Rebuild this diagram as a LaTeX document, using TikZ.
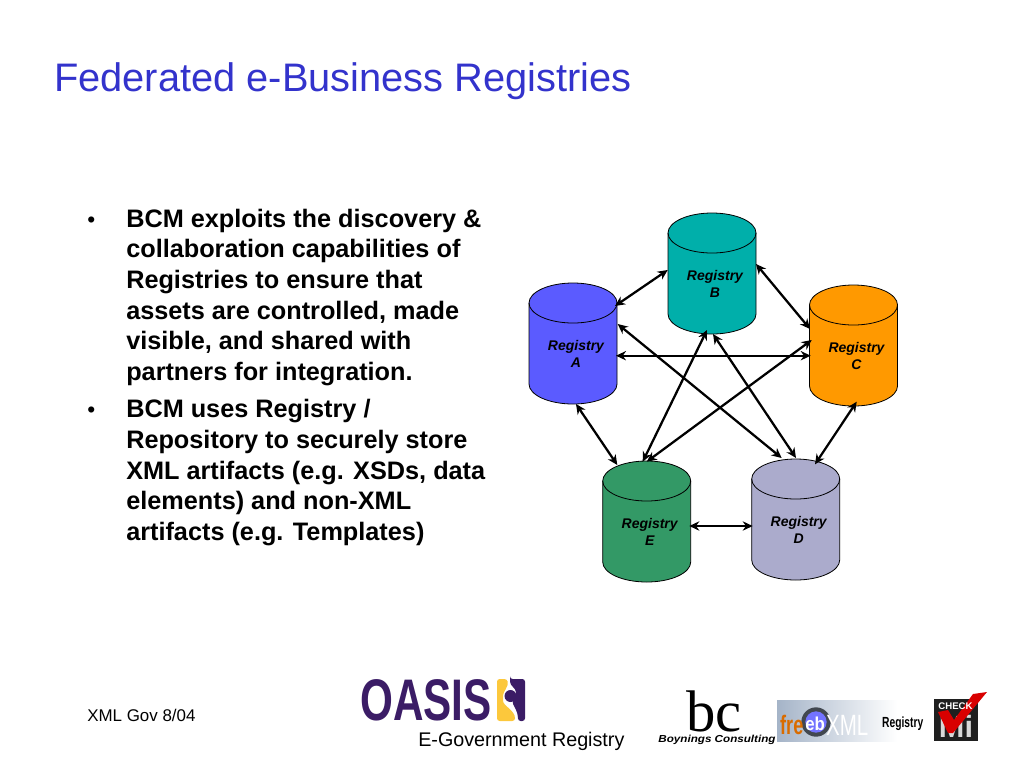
\documentclass[tikz,border=0pt]{standalone}
\usepackage{fontspec}
\setmainfont{Liberation Sans}
\usetikzlibrary{arrows.meta,calc,shadings}
\definecolor{titleblue}{RGB}{51,51,204}
\definecolor{regA}{RGB}{91,91,255}
\definecolor{regB}{RGB}{0,175,170}
\definecolor{regC}{RGB}{255,153,0}
\definecolor{regD}{RGB}{171,171,204}
\definecolor{regE}{RGB}{51,153,102}
\definecolor{oasisp}{RGB}{59,28,102}
\definecolor{oasisy}{RGB}{252,200,60}
\definecolor{ebgrey}{RGB}{165,180,200}
\tikzset{
  conn/.style={{Stealth[length=7.5pt,width=7pt]}-{Stealth[length=7.5pt,width=7pt]},line width=1.7pt,black},
  body/.style={anchor=base west,inner sep=0pt,font=\fontsize{18.95pt}{22pt}\selectfont\bfseries},
  bull/.style={anchor=base west,inner sep=0pt,font=\fontsize{17pt}{20pt}\selectfont},
  foot/.style={anchor=base west,inner sep=0pt},
  reglabel/.style={align=center,inner sep=0pt,font=\fontsize{10.5pt}{12.75pt}\selectfont\bfseries\itshape},
  regbox/.style={minimum width=66pt,minimum height=90.75pt,inner sep=0pt,outer sep=0pt}
}
\newcommand{\regcyl}[5]{% name, x-centre, y-centre, colour, letter
  \node[regbox] (#1) at (#2,#3) {};
  \draw[fill=#4,line width=.6pt]
     ($(#1.north west)+(0,20)$) -- ($(#1.south west)+(0,-20)$)
     arc[start angle=180,end angle=360,x radius=33pt,y radius=15pt]
     -- ($(#1.north east)+(0,20)$)
     arc[start angle=0,end angle=180,x radius=33pt,y radius=15pt] -- cycle;
  \draw[line width=.6pt] ($(#1.north west)+(0,20)$)
     arc[start angle=180,end angle=360,x radius=33pt,y radius=15pt];
  \node[reglabel] (t#1) at ($(#1.center)+(3,10)$) {Registry\\#5};
}
\begin{document}
\begin{tikzpicture}[x=.75pt,y=-.75pt]
\useasboundingbox (0,0) rectangle (1024,768);
\node[anchor=base west,inner sep=0pt,text=titleblue,font=\fontsize{29.85pt}{32pt}\selectfont] (title) at (54,91.5) {Federated e-Business Registries};

\node[bull] (b1) at (87,227) {•};
\foreach \n/\y/\t in {a/227/{BCM exploits the discovery \&},b/257.5/{collaboration capabilities of},c/288/{Registries to ensure that},d/319/{assets are controlled, made},e/349/{visible, and shared with},f/380/{partners for integration.},g/417/{BCM uses Registry /},h/448/{Repository to securely store},i/479/{XML artifacts (e.g. XSDs, data},j/509/{elements) and non-XML},k/540/{artifacts (e.g. Templates)}}
  \node[body] (l\n) at (126,\y) {\t};
\node[bull] (b2) at (87,417) {•};

\regcyl{A}{573}{343.5}{regA}{A}
\regcyl{B}{712}{273.5}{regB}{B}
\regcyl{C}{853.5}{345.5}{regC}{C}
\regcyl{D}{795.7}{519.5}{regD}{D}
\regcyl{E}{646.7}{521.5}{regE}{E}

\draw[conn] ($(A.center)+(42,-37.5)$) -- ($(B.center)+(-44.3,-3.5)$);
\draw[conn] ($(B.center)+(44,-9.5)$) -- ($(C.center)+(-43.5,-16.5)$);
\draw[conn] ($(A.center)+(44.7,-19.5)$) -- ($(D.center)+(-14,-61.5)$);
\draw[conn] ($(A.center)+(43,12.2)$) -- ($(C.center)+(-42.8,10.2)$);
\draw[conn] ($(B.center)+(-5,56.5)$) -- ($(E.center)+(-4,-59.8)$);
\draw[conn] ($(B.center)+(1,60.5)$) -- ($(D.center)+(.3,-61.5)$);
\draw[conn] ($(C.center)+(-41.8,-5.5)$) -- ($(E.center)+(0,-59.8)$);
\draw[conn] ($(C.center)+(3.2,56.2)$) -- ($(D.center)+(19.3,-55.2)$);
\draw[conn] ($(A.center)+(3,60.5)$) -- ($(E.center)+(-29.4,-56.5)$);
\draw[conn] ($(E.center)+(42.6,4.5)$) -- ($(D.center)+(-43,6.5)$);

\node[foot,font=\fontsize{12.7pt}{14pt}\selectfont] (gov) at (87,721) {XML Gov 8/04};
\node[foot,font=\fontsize{14.8pt}{16pt}\selectfont] (egov) at (418,746) {E-Government Registry};

% OASIS logo
\node[anchor=base west,inner sep=0pt,text=oasisp,xscale=.72,font=\fontsize{44pt}{44pt}\selectfont\bfseries] (oasis) at (360,720) {OASIS};
\fill[oasisy,rounded corners=2pt] (497,679) -- (507,679) .. controls (509,686) and (503,692) .. (503,698) .. controls (503,706) and (515,710) .. (515,721) -- (497,721) -- cycle;
\fill[oasisp,rounded corners=2pt] (510,679) -- (525,679) -- (525,721) -- (518,721) .. controls (518,712) and (514,706) .. (512,702) -- (516,695) .. controls (516,688) and (510,686) .. cycle;
\fill[oasisp] (510.5,696) circle[radius=4.5pt];

% Boynings Consulting logo
\node[anchor=base,inner sep=0pt,font=\fontsize{44pt}{44pt}\selectfont\fontspec{Liberation Serif}] (bc) at (714,731) {bc};
\node[anchor=base,inner sep=0pt,xscale=1.15,font=\fontsize{7.6pt}{8pt}\selectfont\bfseries\itshape] (bcname) at (717,742) {Boynings Consulting};

% freebXML logo
\shade[left color=ebgrey,middle color=ebgrey!80,right color=white] (777,700) rectangle (897,741);
\fill[black!60!ebgrey] (816,722) circle[radius=11pt];
\fill[blue!55!white] (816,722) circle[radius=8pt];
\node[anchor=base west,inner sep=0pt,text=orange!85!black,xscale=.68,font=\fontsize{20pt}{20pt}\selectfont\bfseries] (fre) at (780,734) {fre};
\node[anchor=base west,inner sep=0pt,text=white,xscale=.9,font=\fontsize{14pt}{14pt}\selectfont\bfseries] (eb) at (805,730) {eb};
\node[anchor=base west,inner sep=0pt,text=white,xscale=.7,font=\fontsize{22pt}{22pt}\selectfont] (xml) at (826,735) {XML};
\node[anchor=base west,inner sep=0pt,xscale=.7,font=\fontsize{11pt}{11pt}\selectfont\bfseries] (regi) at (882,727) {Registry};

% Check Mi logo
\fill[black!88] (934,699) rectangle (978,741);
\node[anchor=base,inner sep=0pt,text=white!85!black,font=\fontsize{23pt}{23pt}\selectfont\bfseries] (mi) at (956,737) {Mi};
\fill[red!85!black] (938,712) -- (948,710) -- (954,720) -- (973,694) -- (987,692) -- (953,733) -- (948,733) -- cycle;
\node[anchor=base,inner sep=0pt,text=white,font=\fontsize{7.2pt}{7pt}\selectfont\bfseries] (chk) at (955.5,709) {CHECK};
\end{tikzpicture}
\end{document}
